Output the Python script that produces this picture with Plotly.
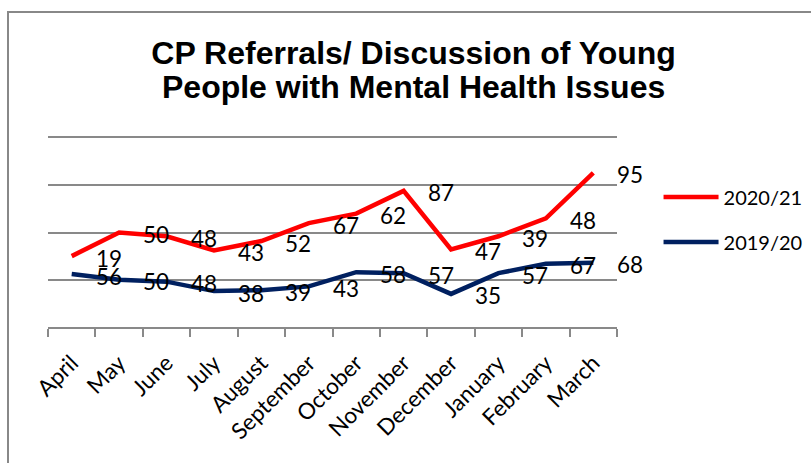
import plotly.graph_objects as go

# ---- data ----
months = ["April", "May", "June", "July", "August", "September",
          "October", "November", "December", "January", "February", "March"]
y_2019_20 = [56, 50, 48, 38, 39, 43, 58, 57, 35, 57, 67, 68]
y_2020_21 = [19, 50, 48, 43, 52, 67, 62, 87, 47, 39, 48, 95]
series_names = ["2019/20", "2020/21"]
title_lines = ["CP Referrals/ Discussion of Young", "People with Mental Health Issues"]
y_ticks = [0, 50, 100, 150, 200]

# ---- style ----
RED = "#FF0000"
NAVY = "#002060"
GRID = "#898989"
LABEL_FONT = "Lato, Carlito, Calibri, sans-serif"
TITLE_FONT = "Liberation Sans, Arial, sans-serif"
FS = 22.5

fig = go.Figure()
fig.add_trace(go.Scatter(
    x=months, y=y_2019_20, name=series_names[0], mode="lines",
    stackgroup="cp", fill="none", legendgroup="g1", legendrank=2,
    line=dict(color=NAVY, width=4.5), hoverinfo="skip"))
fig.add_trace(go.Scatter(
    x=months, y=y_2020_21, name=series_names[1], mode="lines",
    stackgroup="cp", fill="none", legendgroup="g2", legendrank=1,
    line=dict(color=RED, width=4.5), hoverinfo="skip"))

# data labels (placed to the right of each stacked point)
stack_bottom = list(y_2019_20)
stack_top = [a + b for a, b in zip(y_2019_20, y_2020_21)]
annotations = []
for vals, ys in ((y_2019_20, stack_bottom), (y_2020_21, stack_top)):
    for m, v, yy in zip(months, vals, ys):
        annotations.append(dict(
            x=m, y=yy, xref="x", yref="y", text=str(v), showarrow=False,
            xanchor="center", yanchor="middle", xshift=37, yshift=-2,
            font=dict(family=LABEL_FONT, size=FS, color="#000000")))

title_text = "<br>".join(
    "<span style='font-size:32px'>%s</span>" % t for t in title_lines)

fig.update_layout(
    width=811, height=463,
    margin=dict(l=48, r=194, t=138, b=136, autoexpand=False),
    paper_bgcolor="white", plot_bgcolor="white",
    title=dict(text=title_text, x=0.51, xanchor="center",
               y=1 - 63.5 / 463, yanchor="middle",
               font=dict(family=TITLE_FONT, size=26.5, color="#000000",
                         weight="bold")),
    showlegend=True,
    legend=dict(x=1.073, xanchor="left", y=0.569, yanchor="middle",
                traceorder="grouped", tracegroupgap=16, itemwidth=55,
                font=dict(family=LABEL_FONT, size=20, color="#000000"),
                bgcolor="rgba(0,0,0,0)", borderwidth=0),
    annotations=annotations,
    shapes=[dict(type="rect", xref="paper", yref="paper",
                 x0=(8 - 48) / 569, x1=(830 - 48) / 569,
                 y0=(327 - 480) / 189, y1=(327 - 12) / 189,
                 line=dict(color="#888888", width=2), layer="below")],
)

fig.update_xaxes(
    type="category", range=[-0.5, len(months) - 0.5],
    tickson="boundaries", ticks="outside", ticklen=8,
    tickwidth=2, tickcolor=GRID, showline=True, linecolor=GRID, linewidth=2,
    mirror=True, showgrid=False, tickangle=-45, ticklabelstandoff=12,
    tickfont=dict(family=LABEL_FONT, size=FS, color="#000000"))
fig.update_yaxes(
    range=[y_ticks[0], y_ticks[-1]], tickvals=y_ticks, showticklabels=False,
    showgrid=True, gridcolor=GRID, gridwidth=2, zeroline=False,
    showline=False, ticks="")

fig.write_html("out.html")
